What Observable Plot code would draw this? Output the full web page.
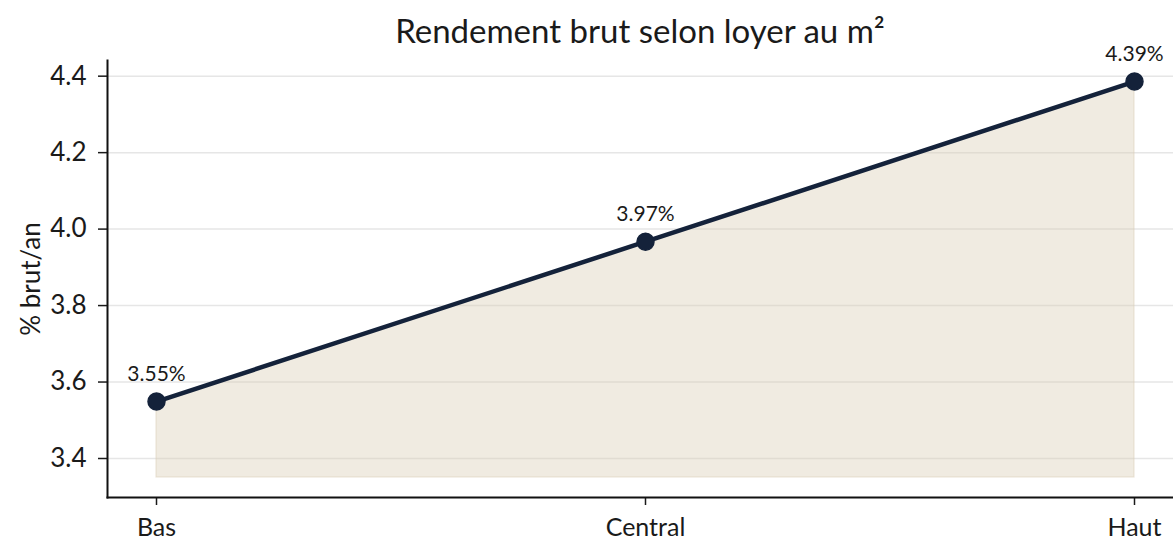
<!DOCTYPE html>
<html>
<head>
<meta charset="utf-8">
<script src="https://cdn.jsdelivr.net/npm/d3@7"></script>
<script src="https://cdn.jsdelivr.net/npm/@observablehq/plot@0.6"></script>
<style>
  html, body { margin: 0; padding: 0; background: #fff; }
  #wrap { width: 1173px; height: 541px; position: relative; font-family: Lato, "Noto Sans", sans-serif; color: #1a1a1a; overflow: hidden; }
  #title { position: absolute; top: 14px; left: 107px; right: 0; text-align: center; font-size: 33px; line-height: 33px; white-space: nowrap; pointer-events: none; }
  svg { display: block; }
</style>
</head>
<body>
<div id="wrap">
  <div id="chart"></div>
  <div id="title">Rendement brut selon loyer au m²</div>
</div>
<script>
const scenarios = ["Bas", "Central", "Haut"];
const rendement = [3.549, 3.967, 4.386];
const yTicks = [3.4, 3.6, 3.8, 4.0, 4.2, 4.4];
const baseline = 3.35;

const data = scenarios.map((s, i) => ({scenario: s, value: rendement[i], label: rendement[i].toFixed(2) + "%"}));

const navy = "#14223a";
const font = "Lato, 'Noto Sans', sans-serif";

const plot = Plot.plot({
  width: 1173,
  height: 541,
  marginLeft: 107,
  marginRight: 0,
  marginTop: 60,
  marginBottom: 44,
  style: {fontFamily: font, fontSize: "26px", color: "#1a1a1a", background: "#fff"},
  x: {type: "point", domain: scenarios, padding: 0, insetLeft: 48, insetRight: 39},
  y: {domain: [3.298, 4.441]},
  marks: [
    Plot.gridY(yTicks, {stroke: "#e6e6e6", strokeOpacity: 1, strokeWidth: 1.5}),
    Plot.areaY(data, {x: "scenario", y1: baseline, y2: "value", fill: "#d9ccb3", fillOpacity: 0.4, stroke: "#d9ccb3", strokeOpacity: 0.4, strokeWidth: 1.5}),
    Plot.lineY(data, {x: "scenario", y: "value", stroke: navy, strokeWidth: 4.5}),
    Plot.dot(data, {x: "scenario", y: "value", r: 8.5, fill: navy, stroke: navy, strokeWidth: 1.5}),
    Plot.text(data, {x: "scenario", y: "value", text: "label", dy: -27, fontSize: 21, fill: "#1a1a1a"}),
    Plot.axisY(yTicks, {tickSize: 9, tickPadding: 12, strokeWidth: 1.5, tickFormat: d => d.toFixed(1), label: "% brut/an", labelAnchor: "center", labelArrow: "none", labelOffset: 86, fontSize: 26}),
    Plot.axisX({tickSize: 8, tickPadding: 13, strokeWidth: 1.5, label: null, fontSize: 25}),
    Plot.frame({anchor: "left", stroke: "#111", strokeWidth: 2}),
    Plot.frame({anchor: "bottom", stroke: "#111", strokeWidth: 2})
  ]
});
document.getElementById("chart").appendChild(plot);
</script>
</body>
</html>
